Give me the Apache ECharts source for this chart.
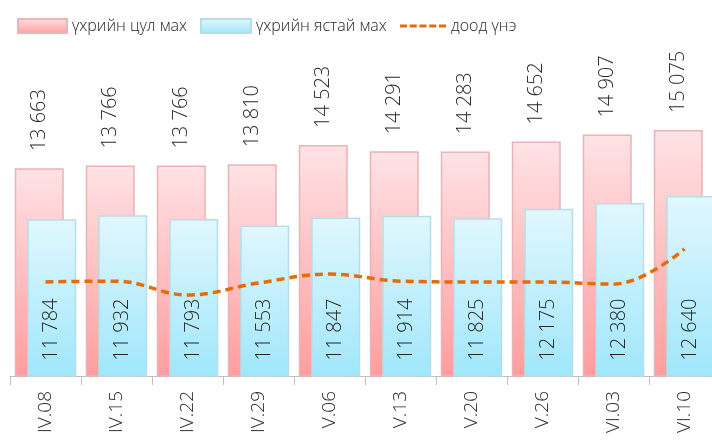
<!DOCTYPE html>
<html><head><meta charset="utf-8">
<script src="https://cdn.jsdelivr.net/npm/echarts@6/dist/echarts.min.js"></script>
<style>html,body{margin:0;padding:0;background:#fff;overflow:hidden}#c{width:730px;height:441px}</style>
</head><body><div id="c"></div>
<script>
const categories = ['IV.08','IV.15','IV.22','IV.29','V.06','V.13','V.20','V.26','VI.03','VI.10'];
const solidMeat = [13663,13766,13766,13810,14523,14291,14283,14652,14907,15075];
const boneMeat = [11784,11932,11793,11553,11847,11914,11825,12175,12380,12640];
const lowPrice = [9470,9500,8990,9430,9760,9500,9470,9470,9390,10690];
const seriesNames = ['үхрийн цул мах','үхрийн ястай мах','доод үнэ'];

const FONT = 'Open Sans';
const W = 300;
const chart = echarts.init(document.getElementById('c'));
const pinkGrad = new echarts.graphic.LinearGradient(0,0,0,1,[{offset:0,color:'#FFE2E5'},{offset:1,color:'#FF9D9D'}]);
const blueGrad = new echarts.graphic.LinearGradient(0,0,0,1,[{offset:0,color:'#E1F7FE'},{offset:1,color:'#9FE7FB'}]);
const fmt = v => String(v.value).replace(/\B(?=(\d{3})+(?!\d))/g,' ');
const legendText = {fontFamily: FONT, fontWeight: W, fontSize: 16, color: '#262626'};
const dashIcon = 'path://M0,0h7v3h-7zM9.75,0h7v3h-7zM19.5,0h7v3h-7zM29.25,0h7v3h-7zM39,0h7v3h-7z';
chart.setOption({
  animation: false,
  legend: [
    {data:[{name: seriesNames[0], icon: 'rect'}], left: 17, top: 18, padding: 0, itemWidth: 49, itemHeight: 14, itemGap: 0, textStyle: legendText},
    {data:[{name: seriesNames[1], icon: 'rect'}], left: 200, top: 18, padding: 0, itemWidth: 50, itemHeight: 14, itemGap: 0, textStyle: legendText},
    {data:[{name: seriesNames[2], icon: dashIcon}], left: 400, top: 18, padding: 0, itemWidth: 46, itemHeight: 3, itemGap: 0, textStyle: legendText}
  ],
  grid: {left: 10, width: 710, top: 105, bottom: 65, containLabel: false},
  xAxis: {
    type: 'category', data: categories, boundaryGap: true,
    axisLine: {lineStyle: {color: '#BFBFBF', width: 1}},
    axisTick: {show: true, length: 9, lineStyle: {color: '#BFBFBF'}},
    axisLabel: {rotate: 90, margin: 15, fontFamily: FONT, fontWeight: W, fontSize: 19, color: '#262626'}
  },
  yAxis: {type: 'value', min: 6000, max: 16000, show: false, splitLine: {show: false}},
  series: [
    {name: seriesNames[0], type: 'bar', data: solidMeat, barWidth: 49, barGap: '-74.5%',
     itemStyle: {color: pinkGrad, borderColor: '#E8B4B8', borderWidth: 1.5},
     label: {show: true, position: 'top', rotate: 90, align: 'left', verticalAlign: 'middle', distance: 17,
             formatter: fmt, fontFamily: FONT, fontWeight: W, fontSize: 20, color: '#262626'}},
    {name: seriesNames[1], type: 'bar', data: boneMeat, barWidth: 49,
     itemStyle: {color: blueGrad, borderColor: '#B5DEE9', borderWidth: 1.5},
     label: {show: true, position: 'insideBottom', rotate: 90, align: 'left', verticalAlign: 'middle', distance: 16,
             formatter: fmt, fontFamily: FONT, fontWeight: W, fontSize: 20, color: '#262626'}},
    {name: seriesNames[2], type: 'line', data: lowPrice, smooth: 0.4, symbol: 'none',
     lineStyle: {color: '#E46C0A', width: 3.5, type: [8,5]}, itemStyle: {color: '#E46C0A'}, z: 5}
  ]
});
</script></body></html>
